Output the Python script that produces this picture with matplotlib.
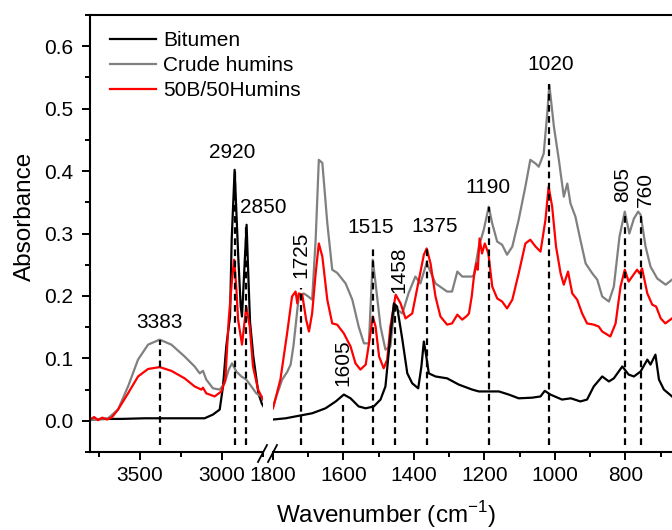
import matplotlib
matplotlib.use('Agg')
import matplotlib.pyplot as plt
from matplotlib.lines import Line2D
from matplotlib.ticker import MultipleLocator

plt.rcParams['font.family'] = ['Liberation Sans', 'DejaVu Sans']
plt.rcParams['mathtext.fontset'] = 'custom'
plt.rcParams['mathtext.rm'] = 'Liberation Sans'

# ---- high wavenumber region (3800 - 2750 cm-1) ----
bit_hi_wn = [3805, 3700, 3614, 3471, 3300, 3106, 3055, 3014, 2994, 2974, 2951, 2941, 2923,
             2901, 2886, 2878, 2860, 2850, 2840, 2829, 2809, 2778, 2758, 2745]
bit_hi_ab = [0.002, 0.003, 0.003, 0.004, 0.004, 0.004, 0.010, 0.018, 0.055, 0.119, 0.167, 0.290, 0.402,
             0.263, 0.183, 0.167, 0.263, 0.314, 0.236, 0.158, 0.103, 0.044, 0.028, 0.022]

hum_hi_wn = [3805, 3695, 3634, 3573, 3512, 3451, 3380, 3309, 3228, 3167, 3136, 3116, 3096,
             3055, 3014, 2984, 2959, 2939, 2913, 2882, 2852, 2821, 2791, 2760, 2745]
hum_hi_ab = [0.002, 0.004, 0.018, 0.055, 0.098, 0.122, 0.130, 0.122, 0.103, 0.087, 0.076, 0.080, 0.066,
             0.052, 0.050, 0.060, 0.082, 0.092, 0.079, 0.071, 0.066, 0.055, 0.044, 0.039, 0.036]

mix_hi_wn = [3805, 3780, 3756, 3730, 3700, 3670, 3634, 3573, 3512, 3451, 3380, 3309, 3228, 3167,
             3126, 3116, 3096, 3045, 3004, 2980, 2959, 2939, 2926, 2912, 2902, 2878, 2852, 2831,
             2811, 2780, 2750]
mix_hi_ab = [0.002, 0.006, 0.001, 0.005, 0.002, 0.006, 0.018, 0.044, 0.071, 0.083, 0.086, 0.080, 0.068, 0.055,
             0.050, 0.053, 0.044, 0.039, 0.047, 0.066, 0.162, 0.226, 0.258, 0.210, 0.162, 0.122, 0.183, 0.151,
             0.087, 0.050, 0.034]

# ---- fingerprint region (1800 - 668 cm-1) ----
bit_lo_wn = [1800, 1764, 1727, 1689, 1651, 1622, 1599, 1580, 1557, 1537, 1514, 1495, 1481, 1470, 1457,
             1448, 1433, 1419, 1405, 1388, 1379, 1372, 1365, 1358, 1339, 1306, 1273, 1235, 1216, 1159,
             1131, 1103, 1065, 1041, 1029, 1013, 980, 955, 928, 909, 890, 866, 847, 833, 809, 791, 776,
             757, 738, 729, 715, 705, 691, 668]
bit_lo_ab = [0.002, 0.004, 0.008, 0.012, 0.020, 0.031, 0.042, 0.036, 0.023, 0.020, 0.023, 0.034, 0.055, 0.119, 0.188,
             0.183, 0.130, 0.076, 0.060, 0.052, 0.087, 0.127, 0.103, 0.076, 0.071, 0.068, 0.058, 0.050, 0.047, 0.047,
             0.042, 0.036, 0.037, 0.039, 0.048, 0.042, 0.034, 0.036, 0.031, 0.034, 0.055, 0.071, 0.063, 0.068, 0.087, 0.074, 0.071,
             0.079, 0.098, 0.090, 0.106, 0.066, 0.050, 0.039]

hum_lo_wn = [1800, 1790, 1774, 1760, 1750, 1742, 1736, 1727, 1713, 1702, 1689, 1679, 1670, 1660, 1646,
             1632, 1618, 1594, 1575, 1557, 1542, 1528, 1517, 1509, 1495, 1481, 1467, 1455, 1448, 1433,
             1415, 1396, 1382, 1364, 1339, 1306, 1292, 1277, 1263, 1235, 1230, 1216, 1202, 1188, 1178,
             1164, 1150, 1136, 1121, 1103, 1084, 1070, 1055, 1046, 1032, 1022, 1016, 1003, 989, 975, 965,
             956, 942, 928, 913, 894, 880, 866, 847, 833, 817, 802, 789, 776, 764, 757, 743, 729, 710, 686, 668]
hum_lo_ab = [0.022, 0.040, 0.066, 0.078, 0.090, 0.120, 0.151, 0.199, 0.204, 0.200, 0.194, 0.290, 0.418, 0.413, 0.317,
             0.242, 0.237, 0.220, 0.194, 0.151, 0.124, 0.124, 0.258, 0.220, 0.151, 0.114, 0.119, 0.183, 0.178, 0.172,
             0.205, 0.231, 0.220, 0.253, 0.220, 0.207, 0.207, 0.239, 0.231, 0.231, 0.234, 0.279, 0.306, 0.343, 0.316,
             0.287, 0.282, 0.266, 0.279, 0.322, 0.375, 0.418, 0.412, 0.407, 0.428, 0.492, 0.538, 0.471, 0.418, 0.359, 0.380,
             0.348, 0.327, 0.290, 0.252, 0.236, 0.226, 0.199, 0.191, 0.215, 0.295, 0.335, 0.300, 0.324, 0.335, 0.330, 0.279,
             0.247, 0.228, 0.218, 0.226]

mix_lo_wn = [1800, 1779, 1760, 1746, 1736, 1731, 1727, 1717, 1706, 1698, 1689, 1679, 1670, 1660, 1646,
             1632, 1618, 1599, 1580, 1566, 1552, 1537, 1526, 1517, 1509, 1499, 1486, 1476, 1467, 1452,
             1438, 1424, 1405, 1386, 1372, 1364, 1353, 1339, 1325, 1306, 1292, 1277, 1263, 1250, 1244,
             1236, 1230, 1223, 1219, 1214, 1207, 1199, 1189, 1178, 1164, 1150, 1136, 1121, 1103, 1084,
             1070, 1055, 1041, 1027, 1018, 1008, 997, 984, 975, 963, 951, 937, 923, 909, 890, 876, 866,
             843, 828, 814, 802, 791, 781, 767, 760, 753, 738, 724, 713, 700, 687, 668]
mix_lo_ab = [0.020, 0.066, 0.140, 0.199, 0.207, 0.188, 0.204, 0.202, 0.162, 0.143, 0.172, 0.236, 0.284, 0.263, 0.194,
             0.156, 0.154, 0.140, 0.119, 0.092, 0.082, 0.090, 0.130, 0.167, 0.151, 0.103, 0.084, 0.098, 0.151, 0.202,
             0.188, 0.164, 0.172, 0.226, 0.266, 0.276, 0.252, 0.199, 0.167, 0.154, 0.156, 0.170, 0.162, 0.168, 0.172,
             0.200, 0.231, 0.252, 0.242, 0.292, 0.268, 0.284, 0.268, 0.215, 0.196, 0.191, 0.180, 0.194, 0.236, 0.284,
             0.290, 0.279, 0.271, 0.322, 0.375, 0.343, 0.279, 0.236, 0.218, 0.239, 0.204, 0.194, 0.172, 0.156, 0.154, 0.151, 0.143,
             0.135, 0.156, 0.215, 0.242, 0.223, 0.231, 0.242, 0.236, 0.244, 0.204, 0.186, 0.183, 0.164, 0.156, 0.164]

# peak markers: label, line position, line top
peak_labels = ['3383', '2920', '2850', '1725', '1605', '1515', '1458', '1375', '1190', '1020', '805', '760']
peak_pos = [3380, 2923, 2852, 1720, 1600, 1517, 1453, 1364, 1188, 1016, 802, 757]
peak_top = [0.130, 0.400, 0.310, 0.213, 0.026, 0.278, 0.190, 0.280, 0.342, 0.540, 0.334, 0.334]
# label anchor (x, y, rotation)
label_x = [3380, 2939, 2750, 1722, 1603, 1523, 1444, 1342, 1189, 1013, 808, 743]
label_y = [0.157, 0.430, 0.342, 0.266, 0.093, 0.309, 0.242, 0.312, 0.373, 0.570, 0.378, 0.371]
label_rot = [0, 0, 0, 90, 90, 0, 90, 0, 0, 0, 90, 90]

W, H = 672, 530
fig = plt.figure(figsize=(W / 100, H / 100), dpi=100)
bot, top = 1 - 452 / H, 1 - 15 / H
axR = fig.add_axes([273 / W, bot, (W - 273) / W, top - bot])
axL = fig.add_axes([90 / W, bot, (263 - 90) / W, top - bot])

lw = 1.6
fs = 15
for ax in (axL, axR):
    ax.patch.set_visible(False)
    ax.set_ylim(-0.05, 0.65)
    for s in ('top', 'right', 'left'):
        ax.spines[s].set_visible(False)
    ax.spines['bottom'].set_linewidth(1.5)
    ax.tick_params(axis='both', which='major', direction='out', length=6, width=1.4, labelsize=fs, pad=4)
    ax.tick_params(axis='both', which='minor', direction='out', length=3.5, width=1.4)

axL.spines['left'].set_visible(True)
axL.spines['left'].set_linewidth(1.5)
axL.set_xlim(3805, 2750)
axL.xaxis.set_major_locator(MultipleLocator(500))
axL.xaxis.set_minor_locator(MultipleLocator(250))
axL.yaxis.set_major_locator(MultipleLocator(0.1))
axL.yaxis.set_minor_locator(MultipleLocator(0.05))
axL.set_yticks([0.0, 0.1, 0.2, 0.3, 0.4, 0.5, 0.6])
axL.set_yticklabels(['0.0', '0.1', '0.2', '0.3', '0.4', '0.5', '0.6'])
axL.tick_params(axis='y', pad=6)

axR.set_xlim(1800, 668)
axR.xaxis.set_major_locator(MultipleLocator(200))
axR.xaxis.set_minor_locator(MultipleLocator(100))
axR.set_yticks([])
axR.tick_params(axis='y', which='both', left=False)

axL.plot(bit_hi_wn, bit_hi_ab, color='black', lw=lw, label='Bitumen')
axL.plot(hum_hi_wn, hum_hi_ab, color='#808080', lw=lw, label='Crude humins')
axL.plot(mix_hi_wn, mix_hi_ab, color='red', lw=lw, label='50B/50Humins')
axR.plot(hum_lo_wn, hum_lo_ab, color='#808080', lw=lw)
axR.plot(mix_lo_wn, mix_lo_ab, color='red', lw=lw)
axR.plot(bit_lo_wn, bit_lo_ab, color='black', lw=lw)

for lab, p, t, lx, ly, r in zip(peak_labels, peak_pos, peak_top, label_x, label_y, label_rot):
    ax = axL if p > 2000 else axR
    ax.plot([p, p], [-0.038, t], color='black', lw=1.6, ls=(0, (3, 2)), zorder=3)
    ax.text(lx, ly, lab, fontsize=fs, rotation=r, ha='center', va='center', clip_on=False)

leg = axL.legend(loc='upper left', bbox_to_anchor=(110 / W, 1 - 31 / H), bbox_transform=fig.transFigure,
                 frameon=False, fontsize=fs, handlelength=2.2, handletextpad=0.35,
                 labelspacing=0.3, borderpad=0, borderaxespad=0)

# top frame line and axis break marks
fig.add_artist(Line2D([90 / W, 1], [top, top], color='black', lw=1.5, transform=fig.transFigure))
for x0 in (258, 268):
    fig.add_artist(Line2D([x0 / W, (x0 + 9) / W], [1 - 462 / H, 1 - 445 / H], color='black', lw=1.3,
                          transform=fig.transFigure))

fig.text(25 / W, 1 - 216 / H, 'Absorbance', rotation=90, fontsize=17.5, ha='center', va='center')
fig.text(386 / W, 1 - 515 / H, 'Wavenumber (cm$^{-1}$)', fontsize=17.5, ha='center', va='center')

fig.savefig('out.png', dpi=100)
